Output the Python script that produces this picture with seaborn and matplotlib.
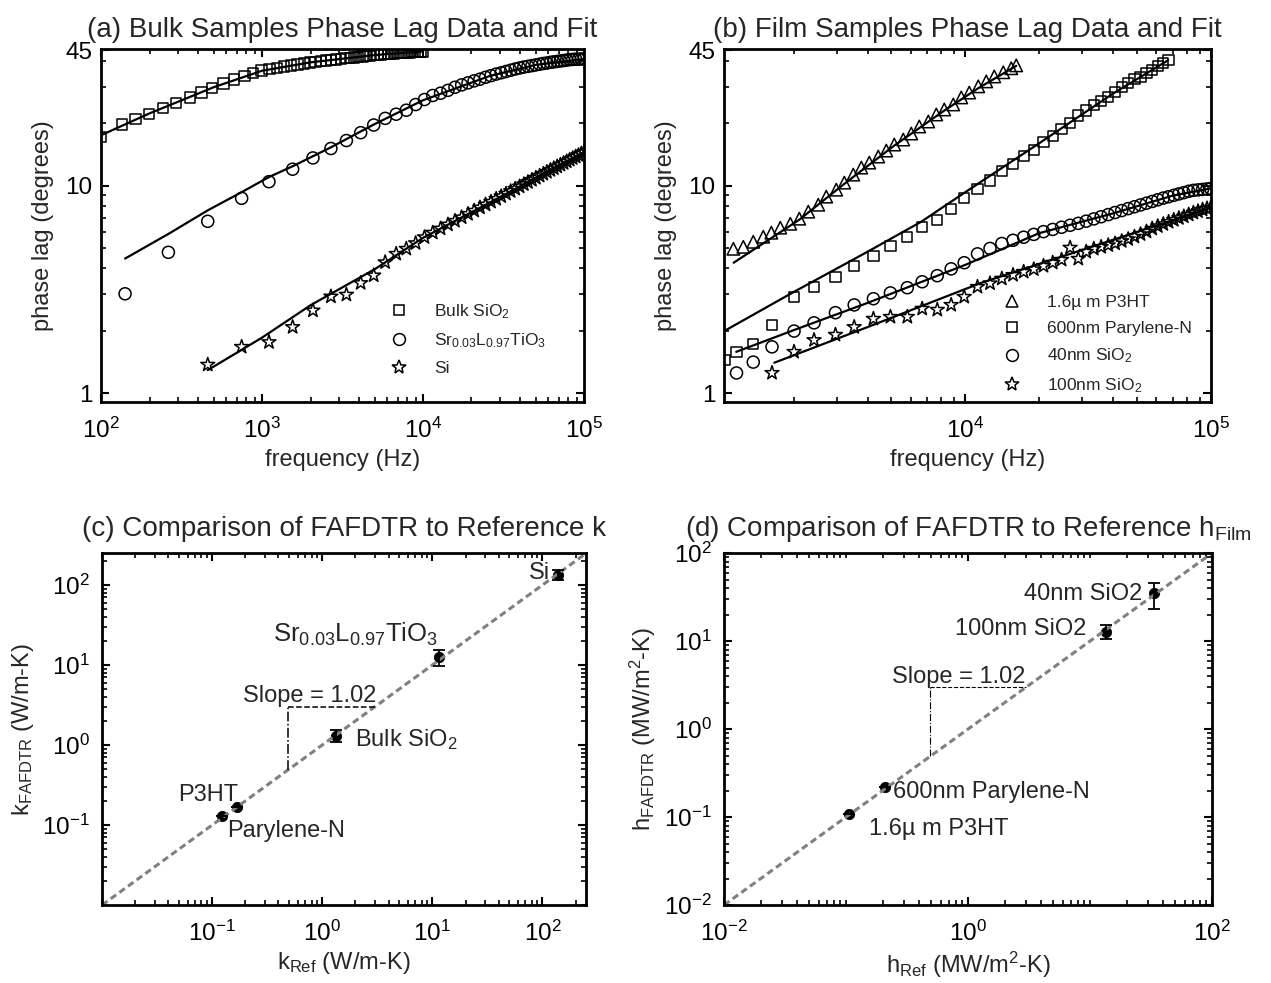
"""
Phase lag data/fit for bulk and film samples, plus FAFDTR vs reference comparison
"""
import numpy as np
import matplotlib
matplotlib.use("Agg")
import matplotlib.pyplot as plt
from matplotlib.lines import Line2D
from matplotlib.ticker import FixedLocator, FixedFormatter, LogLocator, NullFormatter, LogFormatterMathtext
import seaborn as sns

# ---------------- (a) bulk samples ----------------
bulk_sq_freq = [100, 135, 164, 199, 243, 292, 357, 420, 488, 576, 671, 778, 882, 992, 1112,
                1239, 1373, 1513, 1661, 1815, 1976, 2144, 2318, 2500, 2688, 2884, 3086, 3295,
                3511, 3733, 3963, 4199, 4442, 4692, 4949, 5213, 5483, 5761, 6045, 6336, 6634,
                6939, 7251, 7569, 7894, 8226, 8565, 8911, 9264, 9624, 10000]
bulk_sq_phase = [17.2, 19.7, 20.9, 22.1, 23.7, 25.0, 26.6, 28.1, 29.5, 31.1, 32.5, 33.7, 34.9,
                 35.9, 36.5, 37.0, 37.5, 38.0, 38.4, 38.8, 39.2, 39.5, 39.8, 40.1, 40.4, 40.6,
                 40.9, 41.1, 41.3, 41.5, 41.7, 41.9, 42.1, 42.3, 42.5, 42.7, 42.8, 43.0, 43.1,
                 43.3, 43.4, 43.5, 43.6, 43.7, 43.8, 43.9, 44.0, 44.1, 44.2, 44.2, 44.3]
bulk_ci_freq = [141, 262, 460, 747, 1104, 1549, 2071, 2678, 3342, 4100, 4940, 5820, 6810, 7870,
                9000, 10211, 11492, 12848, 14280, 15788, 17371, 19030, 20765, 22575, 24461,
                26423, 28460, 30573, 32761, 35025, 37365, 39780, 42271, 44838, 47480, 50198,
                52992, 55861, 58806, 61827, 64923, 68095, 71342, 74666, 78064, 81539, 85089,
                88715, 92416, 96193, 100000]
bulk_ci_phase = [3.01, 4.77, 6.73, 8.69, 10.45, 12.0, 13.6, 15.1, 16.5, 18.0, 19.6, 21.1, 22.1,
                 23.1, 24.6, 26.0, 27.2, 27.9, 28.8, 29.8, 30.6, 31.3, 32.0, 32.6, 33.3, 33.9,
                 34.5, 35.0, 35.5, 36.0, 36.5, 36.9, 37.3, 37.6, 37.9, 38.2, 38.5, 38.8, 39.0,
                 39.3, 39.5, 39.7, 39.9, 40.1, 40.3, 40.5, 40.6, 40.7, 40.7, 40.8, 40.8]
bulk_st_freq = bulk_ci_freq[2:]
bulk_st_phase = [1.37, 1.67, 1.76, 2.08, 2.50, 2.92, 2.98, 3.39, 3.69, 4.27, 4.69, 4.96, 5.28,
                 5.64, 5.93, 6.21, 6.49, 6.76, 7.03, 7.30, 7.57, 7.84, 8.10, 8.36, 8.63, 8.88,
                 9.14, 9.40, 9.65, 9.90, 10.15, 10.40, 10.65, 10.90, 11.15, 11.39, 11.64, 11.88,
                 12.12, 12.36, 12.60, 12.84, 13.08, 13.32, 13.56, 13.79, 14.03, 14.26, 14.49]

bulk_sq_fit_freq = [100, 200, 500, 1000, 2000, 5000, 10000]
bulk_sq_fit = [17.5, 22.3, 29.8, 35.8, 39.3, 42.6, 44.4]
bulk_ci_fit_freq = [141, 262, 460, 747, 1104, 1549, 2678, 4940, 10000, 26000, 50000, 100000]
bulk_ci_fit = [4.45, 5.85, 7.6, 9.3, 11.0, 12.4, 15.3, 19.7, 25.8, 33.8, 38.2, 40.8]
bulk_st_fit_freq = [460, 1000, 2000, 5000, 10000, 30000, 100000]
bulk_st_fit = [1.29, 1.85, 2.65, 3.95, 5.6, 8.8, 14.5]

# ---------------- (b) film samples ----------------
film_freq = [1050, 1170, 1369, 1632, 2007, 2421, 2959, 3528, 4225, 4956, 5806, 6675, 7691, 8761,
             9900, 11215, 12611, 14090, 15650, 17292, 19016, 20822, 22710, 24680, 26732, 28866,
             31082, 33379, 35759, 38220, 40764, 43389, 46096, 48885, 51756, 54709, 57744, 60861,
             64060, 67340, 70703, 74147, 77674, 81282, 84972, 88744, 92598, 96534, 100000]
film_tri_freq = [1136, 1247, 1369, 1504, 1622, 1764, 1938, 2108, 2294, 2519, 2715, 2982, 3215,
                 3498, 3772, 4064, 4422, 4767, 5137, 5591, 6026, 6495, 7069, 7619, 8211, 8937,
                 9632, 10383, 11298, 12176, 13125, 14283, 15393, 16131]
film_tri_phase = [4.96, 5.07, 5.36, 5.67, 5.93, 6.27, 6.55, 6.93, 7.49, 8.09, 8.85, 9.56, 10.34,
                  11.30, 12.22, 12.91, 13.81, 14.76, 15.78, 16.68, 17.83, 19.28, 20.38, 22.03,
                  23.29, 24.62, 26.62, 28.1, 30.1, 31.8, 33.6, 35.2, 36.8, 38.0]
film_sq_phase = [1.44, 1.58, 1.72, 2.13, 2.91, 3.25, 3.63, 4.11, 4.59, 5.13, 5.67, 6.34, 6.85,
                 7.7, 8.75, 9.6, 10.6, 11.8, 12.7, 13.9, 14.8, 16.2, 17.3, 18.7, 20.0, 21.8, 23.0,
                 24.5, 25.6, 26.8, 28.2, 29.8, 31.2, 32.6, 33.5, 34.8, 36.1, 37.6, 38.9, 40.2]
film_ci_phase = [1.25, 1.41, 1.67, 1.99, 2.18, 2.44, 2.66, 2.85, 3.04, 3.22, 3.44, 3.68, 3.97,
                 4.25, 4.69, 4.98, 5.26, 5.45, 5.64, 5.82, 6.0, 6.15, 6.30, 6.44, 6.58, 6.74,
                 6.91, 7.08, 7.25, 7.42, 7.58, 7.75, 7.91, 8.07, 8.23, 8.39, 8.55, 8.71, 8.84,
                 8.98, 9.12, 9.25, 9.39, 9.49, 9.54, 9.59, 9.64, 9.68]
film_st_phase = [1.25, 1.58, 1.80, 1.91, 2.08, 2.28, 2.33, 2.33, 2.55, 2.52, 2.66, 2.91, 3.25,
                 3.38, 3.56, 3.71, 3.84, 3.95, 4.10, 4.25, 4.39, 5.02, 4.44, 4.80, 4.96, 5.06,
                 5.16, 5.26, 5.40, 5.52, 5.67, 5.83, 6.0, 6.2, 6.37, 6.52, 6.68, 6.83, 6.97,
                 7.10, 7.25, 7.40, 7.52, 7.65, 7.76, 7.83]

film_tri_fit_freq = [1139, 2108, 3215, 5137, 8211, 11298, 16131]
film_tri_fit = [4.25, 6.85, 10.2, 15.6, 23.0, 29.5, 37.8]
film_sq_fit_freq = [1050, 2000, 4000, 6620, 10000, 20000, 40000, 67000]
film_sq_fit = [2.0, 3.07, 4.8, 6.7, 9.3, 16.0, 27.8, 40.2]
film_ci_fit_freq = [1167, 2000, 4000, 10000, 20000, 40000, 70000, 100000]
film_ci_fit = [1.58, 2.01, 2.72, 4.15, 5.9, 7.35, 8.95, 9.7]
film_st_fit_freq = [1667, 4000, 11620, 30000, 100000]
film_st_fit = [1.40, 2.08, 3.40, 4.9, 7.83]

# ---------------- (c) k comparison ----------------
k_names = ["Si", "Sr", "Bulk SiO2", "P3HT", "Parylene-N"]
k_ref = [137, 11.4, 1.33, 0.167, 0.124]
k_meas = [133, 12.5, 1.31, 0.166, 0.128]
k_lo = [117, 9.8, 1.08, 0.166, 0.128]
k_hi = [152, 15.4, 1.54, 0.166, 0.128]

# ---------------- (d) h comparison ----------------
h_names = ["40nm SiO2", "100nm SiO2", "600nm Parylene-N", "1.6um P3HT"]
h_ref = [33.5, 13.5, 0.209, 0.106]
h_meas = [35.0, 12.6, 0.219, 0.108]
h_lo = [23.1, 10.5, 0.219, 0.108]
h_hi = [45.6, 15.1, 0.219, 0.108]

diag_c = [0.01, 250]
diag_d = [0.01, 100]
slope_x = [0.49, 0.49, 3.0]
slope_y = [0.49, 3.0, 3.0]

sns.set_theme(style="ticks")
plt.rcParams["font.family"] = ["Liberation Sans", "DejaVu Sans"]
plt.rcParams.update({
    "mathtext.fontset": "custom",
    "mathtext.rm": "Liberation Sans",
    "mathtext.it": "Liberation Sans:italic",
    "mathtext.bf": "Liberation Sans:bold",
    "mathtext.default": "regular",
    "axes.unicode_minus": False,
    "axes.linewidth": 2.0,
    "axes.edgecolor": "black",
    "xtick.direction": "in",
    "ytick.direction": "in",
    "xtick.top": True,
    "ytick.right": True,
    "xtick.major.size": 6,
    "ytick.major.size": 6,
    "xtick.minor.size": 3.5,
    "ytick.minor.size": 3.5,
    "xtick.major.width": 1.5,
    "ytick.major.width": 1.5,
    "xtick.minor.width": 1.2,
    "ytick.minor.width": 1.2,
    "xtick.major.pad": 11,
    "ytick.major.pad": 6,
    "xtick.color": "black",
    "ytick.color": "black",
    "font.size": 17,
    "axes.labelsize": 17,
    "axes.titlesize": 20,
    "xtick.labelsize": 17.5,
    "ytick.labelsize": 17.5,
})

FS = 17
TFS = 20
fig = plt.figure(figsize=(12.71, 9.83), dpi=100)
ax_a = fig.add_axes([0.0795, 0.591, 0.380, 0.359])
ax_b = fig.add_axes([0.5696, 0.591, 0.383, 0.359])
ax_c = fig.add_axes([0.0803, 0.0793, 0.381, 0.358])
ax_d = fig.add_axes([0.5696, 0.0793, 0.384, 0.358])

for ax in (ax_a, ax_b, ax_c, ax_d):
    ax.set_xscale("log")
    ax.set_yscale("log")


def hollow(ax, x, y, marker, s):
    sns.scatterplot(x=x, y=y, marker=marker, s=s, facecolors="none", edgecolor="black",
                    linewidth=1.1, legend=False, ax=ax)


def fit(ax, x, y):
    sns.lineplot(x=x, y=y, color="black", lw=1.6, sort=False, estimator=None, legend=False, ax=ax)


def phase_axis(ax, xlim):
    ax.set_xlim(*xlim)
    ax.set_ylim(0.905, 45.5)
    ax.yaxis.set_major_locator(FixedLocator([1, 10, 45]))
    ax.yaxis.set_major_formatter(FixedFormatter(["1", "10", "45"]))
    ax.yaxis.set_minor_locator(LogLocator(base=10, subs=np.arange(2, 10), numticks=20))
    ax.yaxis.set_minor_formatter(NullFormatter())
    ax.xaxis.set_minor_locator(LogLocator(base=10, subs=np.arange(2, 10), numticks=20))
    ax.xaxis.set_minor_formatter(NullFormatter())
    ax.set_xlabel("frequency (Hz)", fontsize=FS, labelpad=5)
    ax.set_ylabel("phase lag (degrees)", fontsize=FS, labelpad=8)


# (a)
hollow(ax_a, bulk_sq_freq, bulk_sq_phase, "s", 55)
hollow(ax_a, bulk_ci_freq, bulk_ci_phase, "o", 75)
hollow(ax_a, bulk_st_freq, bulk_st_phase, "*", 110)
fit(ax_a, bulk_sq_fit_freq, bulk_sq_fit)
fit(ax_a, bulk_ci_fit_freq, bulk_ci_fit)
fit(ax_a, bulk_st_fit_freq, bulk_st_fit)
phase_axis(ax_a, (100, 1e5))
ax_a.xaxis.set_major_locator(FixedLocator([1e2, 1e3, 1e4, 1e5]))
ax_a.xaxis.set_major_formatter(LogFormatterMathtext())
ax_a.set_title("(a) Bulk Samples Phase Lag Data and Fit", fontsize=TFS, pad=9)

h_a = [Line2D([], [], ls="none", marker=m, ms=ms, mfc="none", mec="black", mew=1.1)
       for m, ms in [("s", 7.5), ("o", 8.5), ("*", 10.5)]]
ax_a.legend(h_a, ["Bulk SiO$_2$", "Sr$_{0.03}$L$_{0.97}$TiO$_3$", "Si"],
            loc="lower left", bbox_to_anchor=(0.564, 0.03), frameon=False,
            fontsize=12.5, handlelength=1.2, handletextpad=1.4, labelspacing=0.6)

# (b)
hollow(ax_b, film_tri_freq, film_tri_phase, "^", 80)
hollow(ax_b, film_freq[:40], film_sq_phase, "s", 55)
hollow(ax_b, film_freq[1:], film_ci_phase, "o", 75)
hollow(ax_b, film_freq[3:], film_st_phase, "*", 110)
fit(ax_b, film_tri_fit_freq, film_tri_fit)
fit(ax_b, film_sq_fit_freq, film_sq_fit)
fit(ax_b, film_ci_fit_freq, film_ci_fit)
fit(ax_b, film_st_fit_freq, film_st_fit)
phase_axis(ax_b, (1040, 1e5))
ax_b.xaxis.set_major_locator(FixedLocator([1e4, 1e5]))
ax_b.xaxis.set_major_formatter(LogFormatterMathtext())
ax_b.set_title("(b) Film Samples Phase Lag Data and Fit", fontsize=TFS, pad=9)

h_b = [Line2D([], [], ls="none", marker=m, ms=ms, mfc="none", mec="black", mew=1.1)
       for m, ms in [("^", 9), ("s", 7.5), ("o", 8.5), ("*", 10.5)]]
ax_b.legend(h_b, ["1.6\u00b5 m P3HT", "600nm Parylene-N", "40nm SiO$_2$", "100nm SiO$_2$"],
            loc="lower left", bbox_to_anchor=(0.538, -0.024), frameon=False,
            fontsize=12.5, handlelength=1.2, handletextpad=1.4, labelspacing=0.62)


def compare_axis(ax, lim, xt, yt):
    ax.set_xlim(*lim)
    ax.set_ylim(*lim)
    ax.xaxis.set_major_locator(FixedLocator(xt))
    ax.yaxis.set_major_locator(FixedLocator(yt))
    ax.xaxis.set_major_formatter(LogFormatterMathtext())
    ax.yaxis.set_major_formatter(LogFormatterMathtext())
    for axis in (ax.xaxis, ax.yaxis):
        axis.set_minor_locator(LogLocator(base=10, subs=np.arange(1, 10), numticks=20))
        axis.set_minor_formatter(NullFormatter())
    ax.tick_params(axis="y", which="major", pad=9)


# (c)
sns.lineplot(x=diag_c, y=diag_c, color="#808080", lw=2.2, ls=(0, (2.2, 1.3)),
             sort=False, estimator=None, ax=ax_c)
ax_c.errorbar(k_ref, k_meas,
              yerr=[np.subtract(k_meas, k_lo), np.subtract(k_hi, k_meas)],
              fmt="none", ecolor="black", elinewidth=1.3, capsize=4, capthick=1.3)
sns.scatterplot(x=k_ref, y=k_meas, color="black", s=55, edgecolor="black", legend=False, ax=ax_c)
ax_c.plot(slope_x[:2], slope_y[:2], color="black", lw=1.1, ls="-.")
ax_c.plot(slope_x[1:], slope_y[1:], color="black", lw=1.1, ls="--")
compare_axis(ax_c, (0.01, 250), [0.1, 1, 10, 100], [0.1, 1, 10, 100])
ax_c.text(118, 140, "Si", ha="right", va="center", fontsize=FS)
ax_c.text(0.36, 19.4, "Sr$_{0.03}$L$_{0.97}$TiO$_3$", ha="left", va="baseline", fontsize=18.5)
ax_c.text(0.19, 3.4, "Slope = 1.02", ha="left", va="baseline", fontsize=FS)
ax_c.text(2.0, 0.98, "Bulk SiO$_2$", ha="left", va="baseline", fontsize=FS)
ax_c.text(0.049, 0.2, "P3HT", ha="left", va="baseline", fontsize=FS)
ax_c.text(0.137, 0.071, "Parylene-N", ha="left", va="baseline", fontsize=FS)
ax_c.set_title("(c) Comparison of FAFDTR to Reference k", fontsize=TFS, pad=12)
ax_c.set_xlabel("k$_{Ref}$ (W/m-K)", fontsize=FS, labelpad=3)
ax_c.set_ylabel("k$_{FAFDTR}$ (W/m-K)", fontsize=FS, labelpad=4)

# (d)
sns.lineplot(x=diag_d, y=diag_d, color="#808080", lw=2.2, ls=(0, (2.2, 1.3)),
             sort=False, estimator=None, ax=ax_d)
ax_d.errorbar(h_ref, h_meas,
              yerr=[np.subtract(h_meas, h_lo), np.subtract(h_hi, h_meas)],
              fmt="none", ecolor="black", elinewidth=1.3, capsize=4, capthick=1.3)
sns.scatterplot(x=h_ref, y=h_meas, color="black", s=55, edgecolor="black", legend=False, ax=ax_d)
ax_d.plot(slope_x[:2], slope_y[:2], color="black", lw=0.8, ls="-.")
ax_d.plot(slope_x[1:], slope_y[1:], color="black", lw=0.8, ls="--")
compare_axis(ax_d, (0.01, 100), [0.01, 1, 100], [0.01, 0.1, 1, 10, 100])
ax_d.text(26.7, 29.3, "40nm SiO2", ha="right", va="baseline", fontsize=FS)
ax_d.text(9.4, 11.8, "100nm SiO2", ha="right", va="baseline", fontsize=FS)
ax_d.text(0.238, 3.37, "Slope = 1.02", ha="left", va="baseline", fontsize=FS)
ax_d.text(0.243, 0.163, "600nm Parylene-N", ha="left", va="baseline", fontsize=FS)
ax_d.text(0.155, 0.062, "1.6\u00b5 m P3HT", ha="left", va="baseline", fontsize=FS)
ax_d.set_title("(d) Comparison of FAFDTR to Reference h$_{Film}$", fontsize=TFS, pad=12)
ax_d.set_xlabel("h$_{Ref}$ (MW/m$^2$-K)", fontsize=FS, labelpad=3)
ax_d.set_ylabel("h$_{FAFDTR}$ (MW/m$^2$-K)", fontsize=FS, labelpad=4)

for ax in (ax_a, ax_b, ax_c, ax_d):
    for sp in ax.spines.values():
        sp.set_visible(True)
        sp.set_linewidth(2.0)
        sp.set_color("black")

fig.savefig("out.png", dpi=100, facecolor="white")
